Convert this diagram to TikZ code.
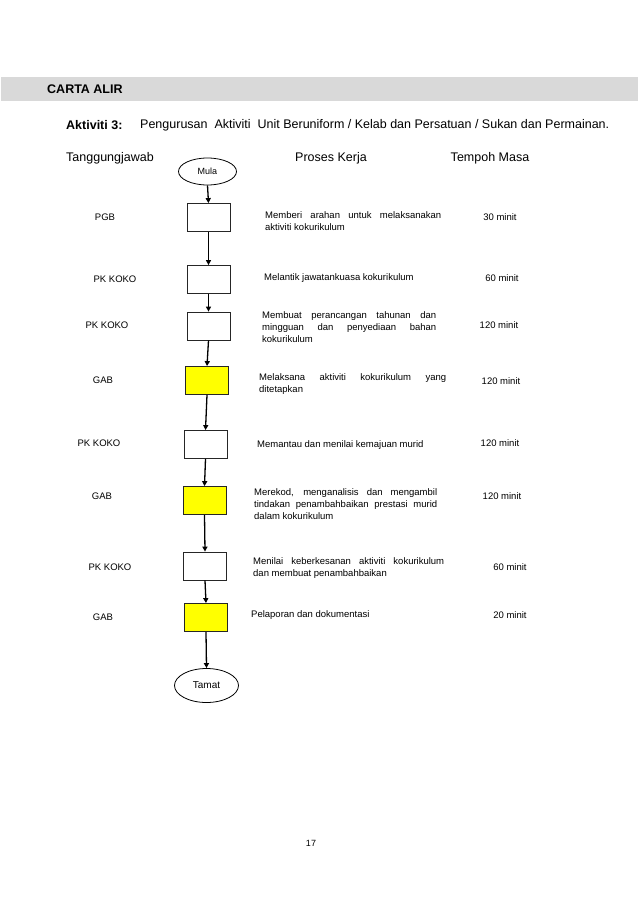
\documentclass[tikz,border=0pt]{standalone}
\usepackage{fontspec}
\setmainfont{Liberation Sans}
\usetikzlibrary{shapes.geometric,arrows.meta,positioning}
\definecolor{cartagrey}{RGB}{217,217,217}
\definecolor{cartayellow}{RGB}{255,255,0}
\hyphenpenalty=10000
\exhyphenpenalty=10000

\begin{document}
\begin{tikzpicture}[
    x=1pt, y=-1pt,
    box/.style={rectangle, draw=black!85, line width=0.8pt,
                minimum width=43pt, minimum height=28pt, inner sep=0pt},
    endpoint/.style={ellipse, draw=black, line width=0.8pt, inner sep=0pt,
                font=\fontsize{9}{10}\selectfont},
    who/.style={font=\fontsize{9.5}{11}\selectfont, inner sep=0pt},
    proses/.style={font=\fontsize{9.5}{12}\selectfont, inner sep=0pt, anchor=west},
    masa/.style={font=\fontsize{9.5}{11}\selectfont, inner sep=0pt},
    head/.style={font=\fontsize{12.5}{14}\selectfont, inner sep=0pt},
    arrow/.style={-{Triangle[length=5pt,width=5pt]}, line width=1.3pt, black}
]
\useasboundingbox (0,0) rectangle (638,903);

% title bar
\fill[cartagrey] (1,77) rectangle (638,101);
\node[head, font=\fontsize{12.5}{14}\selectfont\bfseries, anchor=west] (carta) at (47,89) {CARTA ALIR};
\node[head, font=\fontsize{12.5}{14}\selectfont\bfseries, anchor=west] (aktlabel) at (66,125) {Aktiviti 3:};
\node[head, anchor=west] (akttitle) at (140,125) {Pengurusan~ Aktiviti~ Unit Beruniform / Kelab dan Persatuan / Sukan dan Permainan.};

% column heads
\node[head, anchor=west] (hwho)   at (66,158)  {Tanggungjawab};
\node[head]              (hproc)  at (331,158) {Proses Kerja};
\node[head]              (hmasa)  at (490,158) {Tempoh Masa};

% flow
\node[endpoint, minimum width=58pt, minimum height=27pt] (mula) at (207.5,171.5) {Mula};
\node[box] (b1) at (208.5,217.5) {};
\node[box] (b2) at (208.5,279.5) {};
\node[box] (b3) at (208.5,326) {};
\node[box, fill=cartayellow] (b4) at (207,380.5) {};
\node[box] (b5) at (205.5,444.5) {};
\node[box, fill=cartayellow] (b6) at (204.5,500.5) {};
\node[box] (b7) at (205,566) {};
\node[box, fill=cartayellow] (b8) at (206,617.5) {};
\node[endpoint, minimum width=64pt, minimum height=34pt, font=\fontsize{10}{11}\selectfont] (tamat) at (206.5,685.5) {Tamat};

\draw[arrow] (mula.south) -- (b1.north);
\draw[arrow] (b1.south)   -- (b2.north);
\draw[arrow] (b2.south)   -- (b3.north);
\draw[arrow] (b3.south)   -- (b4.north);
\draw[arrow] (b4.south)   -- (b5.north);
\draw[arrow] (b5.south)   -- (b6.north);
\draw[arrow] (b6.south)   -- (b7.north);
\draw[arrow] (b7.south)   -- (b8.north);
\draw[arrow] (b8.south)   -- (tamat.north);

% tanggungjawab
\node[who] (w1) at (105,217) {PGB};
\node[who] (w2) at (115,279) {PK KOKO};
\node[who] (w3) at (107,325) {PK KOKO};
\node[who] (w4) at (103,380) {GAB};
\node[who] (w5) at (99,443)  {PK KOKO};
\node[who] (w6) at (102,496) {GAB};
\node[who] (w7) at (110,567) {PK KOKO};
\node[who] (w8) at (103,617) {GAB};

% proses kerja
\node[proses, text width=176pt, align=justify] (p1) at (265,221) {Memberi arahan untuk melaksanakan\linebreak aktiviti kokurikulum};
\node[proses] (p2) at (264,278) {Melantik jawatankuasa kokurikulum};
\node[proses, text width=174pt, align=justify] (p3) at (262,327) {Membuat perancangan tahunan dan\linebreak mingguan dan penyediaan bahan\linebreak kokurikulum};
\node[proses, text width=187pt, align=justify] (p4) at (259,384) {Melaksana aktiviti kokurikulum yang\linebreak ditetapkan};
\node[proses] (p5) at (257,445) {Memantau dan menilai kemajuan murid};
\node[proses, text width=183pt, align=justify] (p6) at (254,504) {Merekod, menganalisis dan mengambil\linebreak tindakan penambahbaikan prestasi murid\linebreak dalam kokurikulum};
\node[proses, text width=191pt, align=justify] (p7) at (253,568) {Menilai keberkesanan aktiviti kokurikulum\linebreak dan membuat penambahbaikan};
\node[proses] (p8) at (251,615) {Pelaporan dan dokumentasi};

% tempoh masa
\node[masa] (t1) at (500,217) {30 minit};
\node[masa] (t2) at (502,278) {60 minit};
\node[masa] (t3) at (499,325) {120 minit};
\node[masa] (t4) at (501,381) {120 minit};
\node[masa] (t5) at (500,443) {120 minit};
\node[masa] (t6) at (502,496) {120 minit};
\node[masa] (t7) at (510,567) {60 minit};
\node[masa] (t8) at (510,615) {20 minit};

\node[masa, font=\fontsize{9}{11}\selectfont] (page) at (311,843) {17};
\end{tikzpicture}
\end{document}
